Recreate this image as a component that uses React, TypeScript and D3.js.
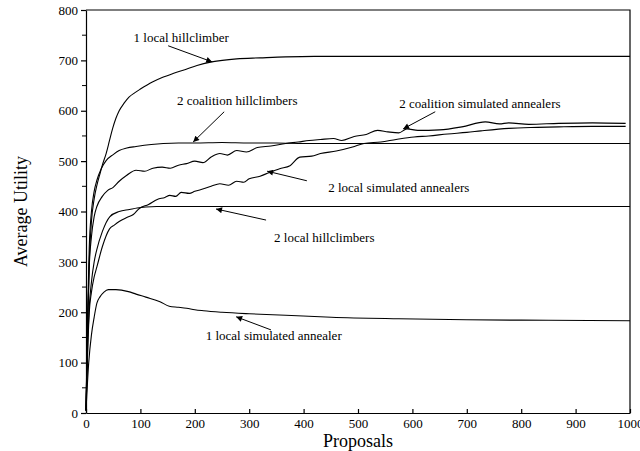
import React, { useRef, useEffect } from 'react';
import * as d3 from 'd3';

// axis ticks
const xTicks = [0, 100, 200, 300, 400, 500, 600, 700, 800, 900, 1000];
const yTicks = [0, 100, 200, 300, 400, 500, 600, 700, 800];
const yMinorTicks = [50, 150, 250, 350, 450, 550, 650, 750];

// 1 local hillclimber
const hc1X = [0, 3, 6, 10, 15, 20, 25, 30, 37, 43, 49, 55, 61, 70, 79, 90, 100, 122, 140, 160, 183, 204, 231, 277, 320, 367, 420, 480, 560, 700, 850, 1000];
const hc1Y = [5, 180, 300, 380, 425, 452, 472, 492, 515, 540, 565, 585, 600, 615, 627, 636, 643, 657, 666, 674, 682, 690, 697, 703, 705, 707, 708, 708, 708, 708, 708, 708];

// 2 coalition hillclimbers
const chc2X = [0, 3, 6, 10, 15, 20, 28, 37, 50, 61, 75, 92, 120, 142, 170, 200, 250, 300, 350, 400, 500, 700, 1000];
const chc2Y = [5, 200, 330, 400, 440, 462, 485, 501, 513, 521, 526, 529, 533, 535, 536, 536, 537, 536, 536, 535, 535, 535, 535];

// 2 coalition simulated annealers
const csa2X = [0, 3, 6, 10, 15, 20, 30, 40, 50, 61, 75, 92, 108, 123, 140, 155, 170, 185, 200, 215, 230, 246, 260, 277, 295, 315, 340, 367, 390, 410, 431, 455, 470, 493, 515, 536, 555, 575, 590, 610, 650, 691, 734, 760, 777, 814, 869, 931, 992];
const csa2Y = [5, 170, 290, 350, 390, 410, 430, 442, 448, 460, 472, 482, 480, 486, 488, 486, 492, 495, 500, 497, 508, 515, 512, 521, 518, 527, 530, 535, 538, 541, 543, 545, 541, 549, 553, 561, 558, 556, 564, 561, 562, 568, 578, 574, 576, 573, 575, 576, 575];

// 2 local simulated annealers
const lsa2X = [0, 3, 6, 10, 15, 20, 30, 43, 52, 61, 75, 87, 98, 115, 131, 145, 154, 165, 175, 190, 200, 216, 230, 246, 262, 277, 290, 300, 320, 336, 356, 375, 393, 415, 431, 460, 490, 511, 542, 570, 603, 630, 665, 700, 726, 777, 830, 869, 930, 992];
const lsa2Y = [5, 120, 200, 240, 270, 290, 330, 365, 373, 380, 388, 394, 406, 414, 424, 428, 432, 430, 438, 436, 440, 445, 450, 455, 452, 460, 458, 465, 470, 477, 485, 491, 508, 510, 515, 520, 528, 535, 538, 543, 548, 550, 554, 557, 560, 565, 567, 568, 569, 569];

// 2 local hillclimbers
const lhc2X = [0, 3, 6, 10, 15, 20, 30, 44, 61, 80, 94, 110, 130, 200, 400, 700, 1000];
const lhc2Y = [5, 130, 210, 260, 300, 325, 360, 390, 400, 404, 407, 409, 410, 410, 410, 410, 410];

// 1 local simulated annealer
const lsa1X = [0, 5, 10, 15, 20, 26, 33, 41, 55, 78, 92, 110, 136, 153, 170, 185, 200, 216, 250, 300, 367, 451, 575, 700, 850, 1000];
const lsa1Y = [5, 100, 155, 190, 218, 231, 240, 245, 245, 241, 236, 230, 221, 212, 210, 208, 205, 203, 200, 197, 194, 190, 187, 185, 184, 183];

// annotation labels, in data units: text anchor, arrow tail, arrow tip
const noteText = ['1 local hillclimber', '2 coalition hillclimbers', '2 coalition simulated annealers', '2 local simulated annealers', '2 local hillclimbers', '1 local simulated annealer'];
const noteAt = [[175, 746], [278, 621], [724, 615], [575, 447], [438, 349], [345, 153]];
const noteFrom = [[151, 729], [254, 598], [642, 598], [406, 461], [331, 383], [340, 165]];
const noteTo = [[232, 697], [197, 538], [583, 564], [333, 480], [239, 405], [276, 191]];

const series = [
  [hc1X, hc1Y],
  [chc2X, chc2Y],
  [csa2X, csa2Y],
  [lsa2X, lsa2Y],
  [lhc2X, lhc2Y],
  [lsa1X, lsa1Y],
];

const FONT = '"Liberation Serif", "Times New Roman", serif';

const App = () => {
  const svgRef = useRef<SVGSVGElement>(null);

  useEffect(() => {
    document.body.style.margin = '0';
    const w = 640;
    const h = 451;
    const left = 86;
    const right = 630;
    const top = 10;
    const bottom = 413;

    const svg = d3
      .select(svgRef.current)
      .attr('width', w)
      .attr('height', h)
      .style('font-family', FONT);
    svg.selectAll('*').remove();

    const x = d3.scaleLinear().domain([0, 1000]).range([left, right]);
    const y = d3.scaleLinear().domain([0, 800]).range([bottom, top]);

    // frame (top and right edges)
    svg
      .append('path')
      .attr('d', `M${left},${top}H${right}V${bottom}`)
      .attr('fill', 'none')
      .attr('stroke', '#000')
      .attr('stroke-width', 1.2);

    // y axis
    const yAxis = d3.axisLeft(y).tickValues(yTicks).tickSize(5).tickSizeOuter(0).tickPadding(3).tickFormat(d3.format('d'));
    const gy = svg.append('g').attr('transform', `translate(${left},0)`).call(yAxis).attr('font-family', FONT);
    gy.selectAll('text').style('font-family', FONT).style('font-size', '13px').attr('fill', '#000');
    gy.selectAll('line, path').attr('stroke', '#000').attr('stroke-width', 1.2);
    svg
      .selectAll('.minor')
      .data(yMinorTicks)
      .join('line')
      .attr('class', 'minor')
      .attr('x1', left - 4)
      .attr('x2', left)
      .attr('y1', (d) => y(d))
      .attr('y2', (d) => y(d))
      .attr('stroke', '#000');

    // x axis, ticks point inward
    const xAxis = d3.axisBottom(x).tickValues(xTicks).tickSizeInner(-4).tickSizeOuter(0).tickPadding(6).tickFormat(d3.format('d'));
    const gx = svg.append('g').attr('transform', `translate(0,${bottom})`).call(xAxis).attr('font-family', FONT);
    gx.selectAll('text').style('font-family', FONT).style('font-size', '13px').attr('fill', '#000');
    gx.selectAll('line, path').attr('stroke', '#000').attr('stroke-width', 1.2);

    // axis titles
    svg
      .append('text')
      .attr('x', (left + right) / 2)
      .attr('y', 447)
      .attr('text-anchor', 'middle')
      .style('font-size', '18px')
      .text('Proposals');
    svg
      .append('text')
      .attr('transform', `translate(27,${(top + bottom) / 2}) rotate(-90)`)
      .attr('text-anchor', 'middle')
      .style('font-size', '18px')
      .text('Average Utility');

    // lines
    const gen = d3
      .line<[number, number]>()
      .x((d) => x(d[0]))
      .y((d) => y(d[1]))
      .curve(d3.curveMonotoneX);

    series.forEach(([xs, ys]) => {
      const pts = xs.map((v, i) => [v, ys[i]] as [number, number]);
      svg
        .append('path')
        .attr('d', gen(pts))
        .attr('fill', 'none')
        .attr('stroke', '#000')
        .attr('stroke-width', 1.1);
    });

    // arrowhead
    svg
      .append('defs')
      .append('marker')
      .attr('id', 'arrow')
      .attr('viewBox', '0 0 10 10')
      .attr('refX', 10)
      .attr('refY', 5)
      .attr('markerWidth', 9)
      .attr('markerHeight', 6)
      .attr('markerUnits', 'userSpaceOnUse')
      .attr('orient', 'auto')
      .append('path')
      .attr('d', 'M0,0L10,5L0,10Z')
      .attr('fill', '#000');

    // annotations
    svg
      .selectAll('.note-arrow')
      .data(noteText)
      .join('line')
      .attr('class', 'note-arrow')
      .attr('x1', (d, i) => x(noteFrom[i][0]))
      .attr('y1', (d, i) => y(noteFrom[i][1]))
      .attr('x2', (d, i) => x(noteTo[i][0]))
      .attr('y2', (d, i) => y(noteTo[i][1]))
      .attr('stroke', '#000')
      .attr('stroke-width', 1)
      .attr('marker-end', 'url(#arrow)');

    svg
      .selectAll('.note-text')
      .data(noteText)
      .join('text')
      .attr('class', 'note-text')
      .attr('x', (d, i) => x(noteAt[i][0]))
      .attr('y', (d, i) => y(noteAt[i][1]))
      .attr('dy', '0.35em')
      .attr('text-anchor', 'middle')
      .style('font-size', '13px')
      .text((d) => d);
  }, []);

  return <svg ref={svgRef} style={{ display: 'block' }}></svg>;
};

export default App;
